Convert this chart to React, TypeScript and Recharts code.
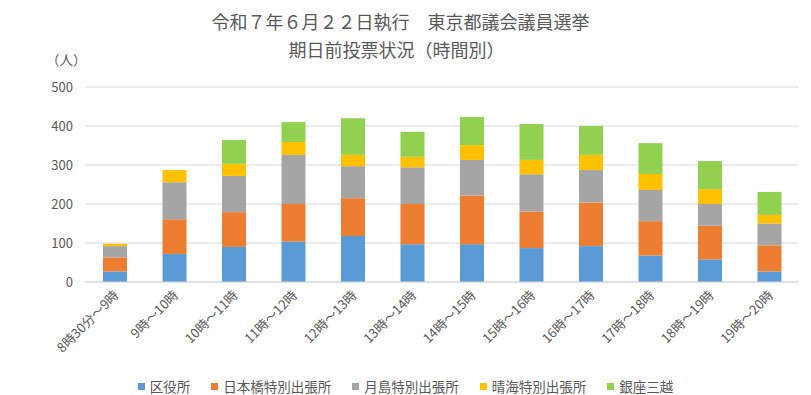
import { Bar, BarChart, CartesianGrid, Legend, XAxis, YAxis } from 'recharts';

// 時間帯
const categories = [
  '8時30分～9時',
  '9時～10時',
  '10時～11時',
  '11時～12時',
  '12時～13時',
  '13時～14時',
  '14時～15時',
  '15時～16時',
  '16時～17時',
  '17時～18時',
  '18時～19時',
  '19時～20時',
];

// 投票所ごとの人数
const kuyakusho = [27, 72, 90, 104, 118, 97, 97, 87, 92, 68, 58, 27];
const nihonbashi = [36, 89, 89, 96, 97, 103, 125, 94, 112, 88, 86, 67];
const tsukishima = [29, 95, 93, 126, 82, 94, 91, 95, 83, 80, 56, 56];
const harumi = [6, 31, 31, 33, 29, 27, 38, 37, 39, 41, 38, 22];
const ginza = [0, 0, 61, 51, 94, 64, 72, 92, 74, 79, 72, 59];

const yTicks = [0, 100, 200, 300, 400, 500];

const series = [
  { key: 'kuyakusho', name: '区役所', color: '#5B9BD5' },
  { key: 'nihonbashi', name: '日本橋特別出張所', color: '#ED7D31' },
  { key: 'tsukishima', name: '月島特別出張所', color: '#A5A5A5' },
  { key: 'harumi', name: '晴海特別出張所', color: '#FFC000' },
  { key: 'ginza', name: '銀座三越', color: '#92D050' },
];

const rows = categories.map((c, i) => ({
  jikan: c,
  kuyakusho: kuyakusho[i],
  nihonbashi: nihonbashi[i],
  tsukishima: tsukishima[i],
  harumi: harumi[i],
  ginza: ginza[i],
}));

const FONT = '"Noto Sans CJK JP", "Noto Sans", sans-serif';
const GRIS = '#595959';

function TickInclinado({ x, y, payload }: any) {
  const tx = x + 5;
  const ty = y + 12;
  return (
    <text
      x={tx}
      y={ty}
      transform={`rotate(-45 ${tx} ${ty})`}
      textAnchor="end"
      fill={GRIS}
      fontSize={13}
      fontFamily={FONT}
    >
      {payload.value}
    </text>
  );
}

function Leyenda() {
  return (
    <div
      style={{
        display: 'flex',
        justifyContent: 'center',
        alignItems: 'center',
        gap: 21,
        fontFamily: FONT,
        fontSize: 13.5,
        color: GRIS,
        lineHeight: '18px',
      }}
    >
      {series.map((s) => (
        <div key={s.key} style={{ display: 'flex', alignItems: 'center' }}>
          <span
            style={{ width: 7, height: 7, background: s.color, marginRight: 5, display: 'inline-block' }}
          />
          {s.name}
        </div>
      ))}
    </div>
  );
}

export default function App() {
  return (
    <div style={{ position: 'absolute', left: 0, top: 0, width: 811, height: 395, background: '#fff' }}>
      <div
        style={{
          position: 'absolute',
          left: 0,
          width: 811,
          top: 7,
          textAlign: 'center',
          fontFamily: FONT,
          fontSize: 18,
          color: GRIS,
          lineHeight: '28px',
        }}
      >
        <div style={{ paddingRight: 10 }}>令和７年６月２２日執行　東京都議会議員選挙</div>
        <div style={{ paddingRight: 18 }}>期日前投票状況（時間別）</div>
      </div>
      <div
        style={{
          position: 'absolute',
          left: 46,
          top: 49,
          fontFamily: FONT,
          fontSize: 13.5,
          color: GRIS,
        }}
      >
        （人）
      </div>
      <BarChart
        width={811}
        height={395}
        data={rows}
        margin={{ top: 87, right: 12, bottom: 0, left: 0 }}
        barSize={24}
      >
        <CartesianGrid vertical={false} stroke="#d9d9d9" />
        <XAxis
          dataKey="jikan"
          interval={0}
          height={95}
          tickLine={false}
          tickSize={0}
          axisLine={{ stroke: '#d9d9d9' }}
          tick={<TickInclinado />}
        />
        <YAxis
          width={85}
          domain={[0, 500]}
          ticks={yTicks}
          axisLine={false}
          tickLine={false}
          tickSize={0}
          tickMargin={12}
          tick={{ fill: GRIS, fontSize: 13, fontFamily: FONT }}
        />
        <Legend
          verticalAlign="bottom"
          height={18}
          wrapperStyle={{ left: 0, width: 811 }}
          content={<Leyenda />}
        />
        {series.map((s) => (
          <Bar
            key={s.key}
            dataKey={s.key}
            name={s.name}
            stackId="a"
            fill={s.color}
            isAnimationActive={false}
          />
        ))}
      </BarChart>
    </div>
  );
}
